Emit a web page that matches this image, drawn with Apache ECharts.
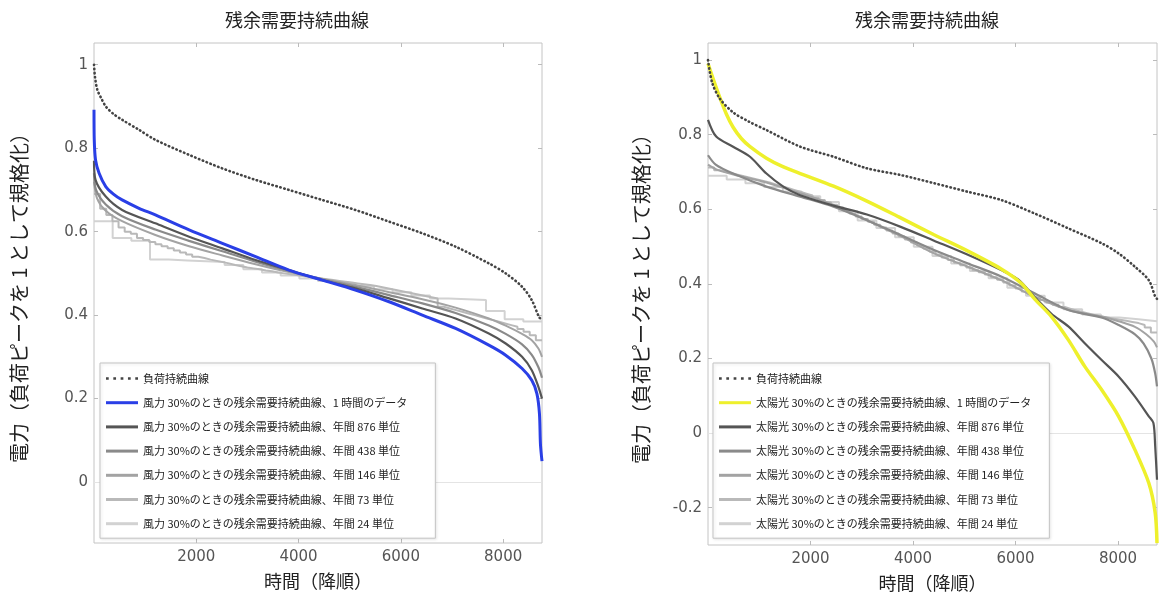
<!DOCTYPE html>
<html><head><meta charset="utf-8">
<script src="https://cdn.jsdelivr.net/npm/echarts@6/dist/echarts.min.js"></script>
<style>html,body{margin:0;padding:0;background:#fff}#c{width:1159px;height:598px}</style>
</head><body><div id="c"></div>
<script>
// ---- data (time in hours, descending order; value normalised to peak load) ----
const HOURS = 8760;
const xTicks = [2000, 4000, 6000, 8000];
const yTicksWind = [0, 0.2, 0.4, 0.6, 0.8, 1];
const yTicksSolar = [-0.2, 0, 0.2, 0.4, 0.6, 0.8, 1];
const chartTitle = '残余需要持続曲線';
const yName = '電力（負荷ピークを 1 として規格化）';
const xName = '時間（降順）';
const loadName = '負荷持続曲線';
const windNames = ['風力 30%のときの残余需要持続曲線、1 時間のデータ','風力 30%のときの残余需要持続曲線、年間 876 単位','風力 30%のときの残余需要持続曲線、年間 438 単位','風力 30%のときの残余需要持続曲線、年間 146 単位','風力 30%のときの残余需要持続曲線、年間 73 単位','風力 30%のときの残余需要持続曲線、年間 24 単位'];
const solarNames = ['太陽光 30%のときの残余需要持続曲線、1 時間のデータ','太陽光 30%のときの残余需要持続曲線、年間 876 単位','太陽光 30%のときの残余需要持続曲線、年間 438 単位','太陽光 30%のときの残余需要持続曲線、年間 146 単位','太陽光 30%のときの残余需要持続曲線、年間 73 単位','太陽光 30%のときの残余需要持続曲線、年間 24 単位'];

const windLoad = [[0,1.0],[20,0.97],[65,0.94],[140,0.92],[230,0.90],[380,0.882],[550,0.868],[880,0.844],[1200,0.82],[1860,0.784],[2500,0.752],[3160,0.724],[3810,0.70],[4460,0.676],[5110,0.652],[5770,0.624],[6420,0.596],[7070,0.564],[7720,0.524],[8050,0.50],[8370,0.468],[8560,0.436],[8700,0.396],[8760,0.388]];
const windHourly = [[0,0.892],[5,0.82],[30,0.772],[100,0.74],[230,0.708],[380,0.69],[550,0.676],[880,0.656],[1200,0.64],[1860,0.604],[2510,0.572],[3160,0.54],[3810,0.508],[4460,0.484],[5110,0.46],[5770,0.432],[6420,0.40],[7070,0.368],[7720,0.328],[8050,0.304],[8370,0.272],[8560,0.244],[8660,0.212],[8710,0.164],[8730,0.09],[8760,0.05]];
const wind876 = [[0,0.77],[30,0.724],[230,0.684],[550,0.652],[1200,0.62],[1860,0.588],[2510,0.56],[3160,0.532],[3810,0.508],[4460,0.484],[5110,0.464],[5770,0.44],[6420,0.416],[7070,0.392],[7720,0.356],[8050,0.332],[8370,0.30],[8560,0.268],[8690,0.228],[8760,0.2]];
const wind438 = [[0,0.74],[40,0.70],[230,0.665],[550,0.637],[1200,0.605],[1860,0.578],[2510,0.553],[3160,0.528],[3810,0.506],[4460,0.486],[5110,0.468],[5770,0.448],[6420,0.428],[7070,0.405],[7720,0.375],[8050,0.355],[8370,0.33],[8560,0.305],[8690,0.275],[8760,0.25]];
const wind146 = [[0,0.72],[60,0.68],[230,0.65],[550,0.625],[1200,0.592],[1860,0.565],[2510,0.543],[3160,0.522],[3810,0.503],[4460,0.487],[5110,0.472],[5770,0.455],[6420,0.438],[7070,0.418],[7720,0.392],[8050,0.375],[8370,0.355],[8560,0.34],[8690,0.32],[8760,0.3]];
const wind73 = [0.69,0.655,0.64,0.625,0.61,0.60,0.595,0.585,0.58,0.575,0.57,0.565,0.56,0.555,0.55,0.545,0.54,0.537,0.533,0.53,0.527,0.524,0.52,0.517,0.514,0.512,0.51,0.507,0.505,0.502,0.50,0.498,0.496,0.494,0.492,0.49,0.488,0.486,0.484,0.482,0.48,0.478,0.476,0.474,0.472,0.47,0.467,0.464,0.461,0.458,0.455,0.452,0.449,0.446,0.443,0.44,0.42,0.416,0.412,0.408,0.404,0.40,0.396,0.392,0.388,0.384,0.38,0.376,0.372,0.367,0.36,0.352,0.34];
const wind24 = [0.625,0.585,0.578,0.533,0.531,0.529,0.527,0.52,0.51,0.502,0.495,0.488,0.482,0.476,0.47,0.462,0.455,0.447,0.44,0.438,0.436,0.41,0.39,0.385];

const solarLoad = [[0,1.0],[80,0.94],[230,0.897],[490,0.86],[800,0.835],[1140,0.8125],[1800,0.768],[2450,0.741],[3100,0.71],[3760,0.692],[4410,0.67],[5070,0.647],[5720,0.625],[6370,0.589],[7030,0.549],[7680,0.509],[8010,0.482],[8330,0.446],[8600,0.41],[8725,0.366],[8760,0.36]];
const solarHourly = [[0,0.991],[100,0.95],[230,0.90],[360,0.855],[490,0.82],[650,0.79],[820,0.768],[1140,0.737],[1450,0.715],[1800,0.696],[2450,0.662],[3100,0.622],[3760,0.577],[4410,0.532],[5070,0.488],[5720,0.44],[6110,0.402],[6370,0.36],[6700,0.3125],[7030,0.25],[7350,0.179],[7680,0.116],[8010,0.045],[8330,-0.045],[8600,-0.134],[8725,-0.214],[8760,-0.295]];
const solar876 = [[0,0.84],[160,0.795],[490,0.768],[820,0.741],[1140,0.696],[1470,0.661],[1800,0.638],[2450,0.61],[3100,0.586],[3760,0.553],[4410,0.516],[5070,0.478],[5720,0.437],[6050,0.412],[6370,0.365],[6700,0.32],[7030,0.286],[7350,0.241],[7680,0.196],[8010,0.152],[8330,0.098],[8600,0.045],[8690,0.027],[8725,-0.036],[8760,-0.125]];
const solar438 = [[0,0.745],[150,0.72],[490,0.696],[1140,0.661],[1800,0.634],[2450,0.607],[3100,0.571],[3760,0.531],[4410,0.491],[5070,0.455],[5720,0.42],[6370,0.375],[7030,0.33],[7680,0.31],[8010,0.29],[8330,0.265],[8500,0.24],[8650,0.2],[8725,0.16],[8760,0.125]];
const solar146 = [[0,0.72],[200,0.705],[600,0.69],[1140,0.672],[1800,0.643],[2450,0.612],[3100,0.571],[3760,0.528],[4410,0.482],[5070,0.446],[5720,0.41],[6370,0.366],[7030,0.33],[7680,0.3125],[8010,0.30],[8330,0.285],[8550,0.265],[8700,0.245],[8760,0.23]];
const solar73 = [0.712,0.705,0.70,0.696,0.692,0.688,0.684,0.68,0.676,0.672,0.667,0.662,0.657,0.652,0.647,0.642,0.637,0.631,0.625,0.619,0.612,0.605,0.597,0.589,0.581,0.574,0.567,0.559,0.551,0.543,0.535,0.527,0.519,0.511,0.503,0.495,0.487,0.479,0.471,0.464,0.457,0.45,0.444,0.437,0.431,0.425,0.418,0.411,0.404,0.396,0.388,0.38,0.372,0.364,0.357,0.35,0.344,0.338,0.333,0.328,0.324,0.32,0.316,0.313,0.31,0.307,0.304,0.301,0.298,0.295,0.29,0.283,0.27];
const solar24 = [0.69,0.68,0.67,0.66,0.648,0.635,0.62,0.595,0.57,0.55,0.525,0.50,0.475,0.455,0.435,0.415,0.39,0.368,0.35,0.332,0.318,0.31,0.305,0.30];

// ---- build ----
function stepData(values){
  const w = HOURS / values.length;
  const d = values.map((v,i)=>[i*w, v]);
  d.push([HOURS, values[values.length-1]]);
  return d;
}
const FONT = '"Noto Sans CJK JP","Noto Sans",sans-serif';
const grays = ['#555555','#8a8a8a','#a3a3a3','#b9b9b9','#d2d2d2'];
const zs = [7,6,5,4,3];
const BLUE = '#2a3fe6', YELLOW = '#eef02c', LOADC = '#444';

function loadSeries(data, gi){
  return {type:'line', name: loadName, data, xAxisIndex:gi, yAxisIndex:gi, symbol:'none', z:10, smooth:0.3,
    lineStyle:{color:LOADC, width:2.6, type:[0.5,3.6], cap:'round'}, itemStyle:{color:LOADC}, animation:false, silent:true};
}
function lineSeries(name, data, gi, color, width, z, step){
  const s = {type:'line', name, data, xAxisIndex:gi, yAxisIndex:gi, symbol:'none', z,
    lineStyle:{color, width}, itemStyle:{color}, animation:false, silent:true};
  if (step) s.step = 'end'; else { s.smooth = 0.3; }
  return s;
}
function zeroLine(gi){
  return {type:'line', name:'_zero'+gi, data:[], xAxisIndex:gi, yAxisIndex:gi, z:1, silent:true, animation:false,
    markLine:{silent:true, symbol:'none', label:{show:false}, lineStyle:{color:'#e4e4e4', width:1, type:'solid'}, data:[{yAxis:0}]}};
}

const series = [
  zeroLine(0), zeroLine(1),
  loadSeries(windLoad, 0),
  lineSeries(windNames[0], windHourly, 0, BLUE, 3, 8),
  lineSeries(windNames[1], wind876, 0, grays[0], 2.2, zs[0]),
  lineSeries(windNames[2], wind438, 0, grays[1], 2.2, zs[1]),
  lineSeries(windNames[3], wind146, 0, grays[2], 2, zs[2]),
  lineSeries(windNames[4], stepData(wind73), 0, grays[3], 2, zs[3], true),
  lineSeries(windNames[5], stepData(wind24), 0, grays[4], 2, zs[4], true),
  loadSeries(solarLoad, 1),
  lineSeries(solarNames[0], solarHourly, 1, YELLOW, 3.5, 8),
  lineSeries(solarNames[1], solar876, 1, grays[0], 2.2, zs[0]),
  lineSeries(solarNames[2], solar438, 1, grays[1], 2.2, zs[1]),
  lineSeries(solarNames[3], solar146, 1, grays[2], 2, zs[2]),
  lineSeries(solarNames[4], stepData(solar73), 1, grays[3], 2, zs[3], true),
  lineSeries(solarNames[5], stepData(solar24), 1, grays[4], 2, zs[4], true)
];

const grids = [
  {left:94, top:43, width:448, height:500},
  {left:708, top:43, width:449, height:502}
];
const tickLbl = {fontFamily:'"DejaVu Sans",sans-serif', fontSize:15, color:'#555'};
function fmt(v){ return String(Math.round(v*10)/10); }

function xAx(gi, top){
  return {type:'value', gridIndex:gi, min:0, max:HOURS, position: top?'top':'bottom',
    axisLine:{show:false, onZero:false}, splitLine:{show:false},
    axisTick:{show:true, inside:true, length:4, customValues:xTicks, lineStyle:{color:'#bbb'}},
    axisLabel:{show:!top, customValues:xTicks, margin:7, formatter:(v)=>String(v), ...tickLbl},
    name: top?'':xName, nameLocation:'middle', nameGap:29,
    nameTextStyle:{fontFamily:FONT, fontSize:18, color:'#222'}};
}
function yAx(gi, right, mn, mx, ticks){
  return {type:'value', gridIndex:gi, min:mn, max:mx, position: right?'right':'left',
    axisLine:{show:false, onZero:false}, splitLine:{show:false},
    axisTick:{show:true, inside:true, length:4, customValues:ticks, lineStyle:{color:'#bbb'}},
    axisLabel:{show:!right, customValues:ticks, margin:6, formatter:fmt, ...tickLbl},
    name: right?'':yName, nameLocation:'middle', nameGap: gi===0?65:57,
    nameTextStyle:{fontFamily:FONT, fontSize:20, color:'#222'}};
}

const ICON_LINE = 'path://M0,0L32,0L32,3L0,3Z';
const ICON_DOTS = 'path://M0,0h2.6v2.6h-2.6zM7,0h2.6v2.6h-2.6zM14,0h2.6v2.6h-2.6zM21,0h2.6v2.6h-2.6zM28,0h2.6v2.6h-2.6z';
function legend(left, names, padRight){
  return {left, top:363, orient:'vertical', itemWidth:32, itemHeight:14, itemGap:13.2,
    padding:[10,padRight,9,6], backgroundColor:'#fff', borderColor:'#c4c4c4', borderWidth:1,
    shadowBlur:3, shadowColor:'rgba(0,0,0,0.12)', shadowOffsetX:1, shadowOffsetY:1,
    selectedMode:false, symbolKeepAspect:true,
    textStyle:{fontFamily:FONT, fontSize:11, color:'#222'},
    data:[{name:loadName, icon:ICON_DOTS}, ...names.map(n=>({name:n, icon:ICON_LINE}))], z:20};
}

const option = {
  backgroundColor:'#fff',
  animation:false,
  title:[
    {text:chartTitle, left:292, top:6, textAlign:'center', textStyle:{fontFamily:FONT, fontSize:18, fontWeight:'normal', color:'#222'}},
    {text:chartTitle, left:922, top:6, textAlign:'center', textStyle:{fontFamily:FONT, fontSize:18, fontWeight:'normal', color:'#222'}}
  ],
  grid: grids.map(g=>({...g, show:true, borderColor:'#c4c4c4', borderWidth:1, backgroundColor:'#fff'})),
  xAxis:[xAx(0,false), xAx(1,false), xAx(0,true), xAx(1,true)],
  yAxis:[yAx(0,false,-0.146,1.052,yTicksWind), yAx(1,false,-0.30,1.046,yTicksSolar), yAx(0,true,-0.146,1.052,yTicksWind), yAx(1,true,-0.30,1.046,yTicksSolar)],
  legend:[legend(100, windNames, 28), legend(713, solarNames, 18)],
  series
};
const chart = echarts.init(document.getElementById('c'), null, {renderer:'canvas'});
chart.setOption(option);
</script></body></html>
